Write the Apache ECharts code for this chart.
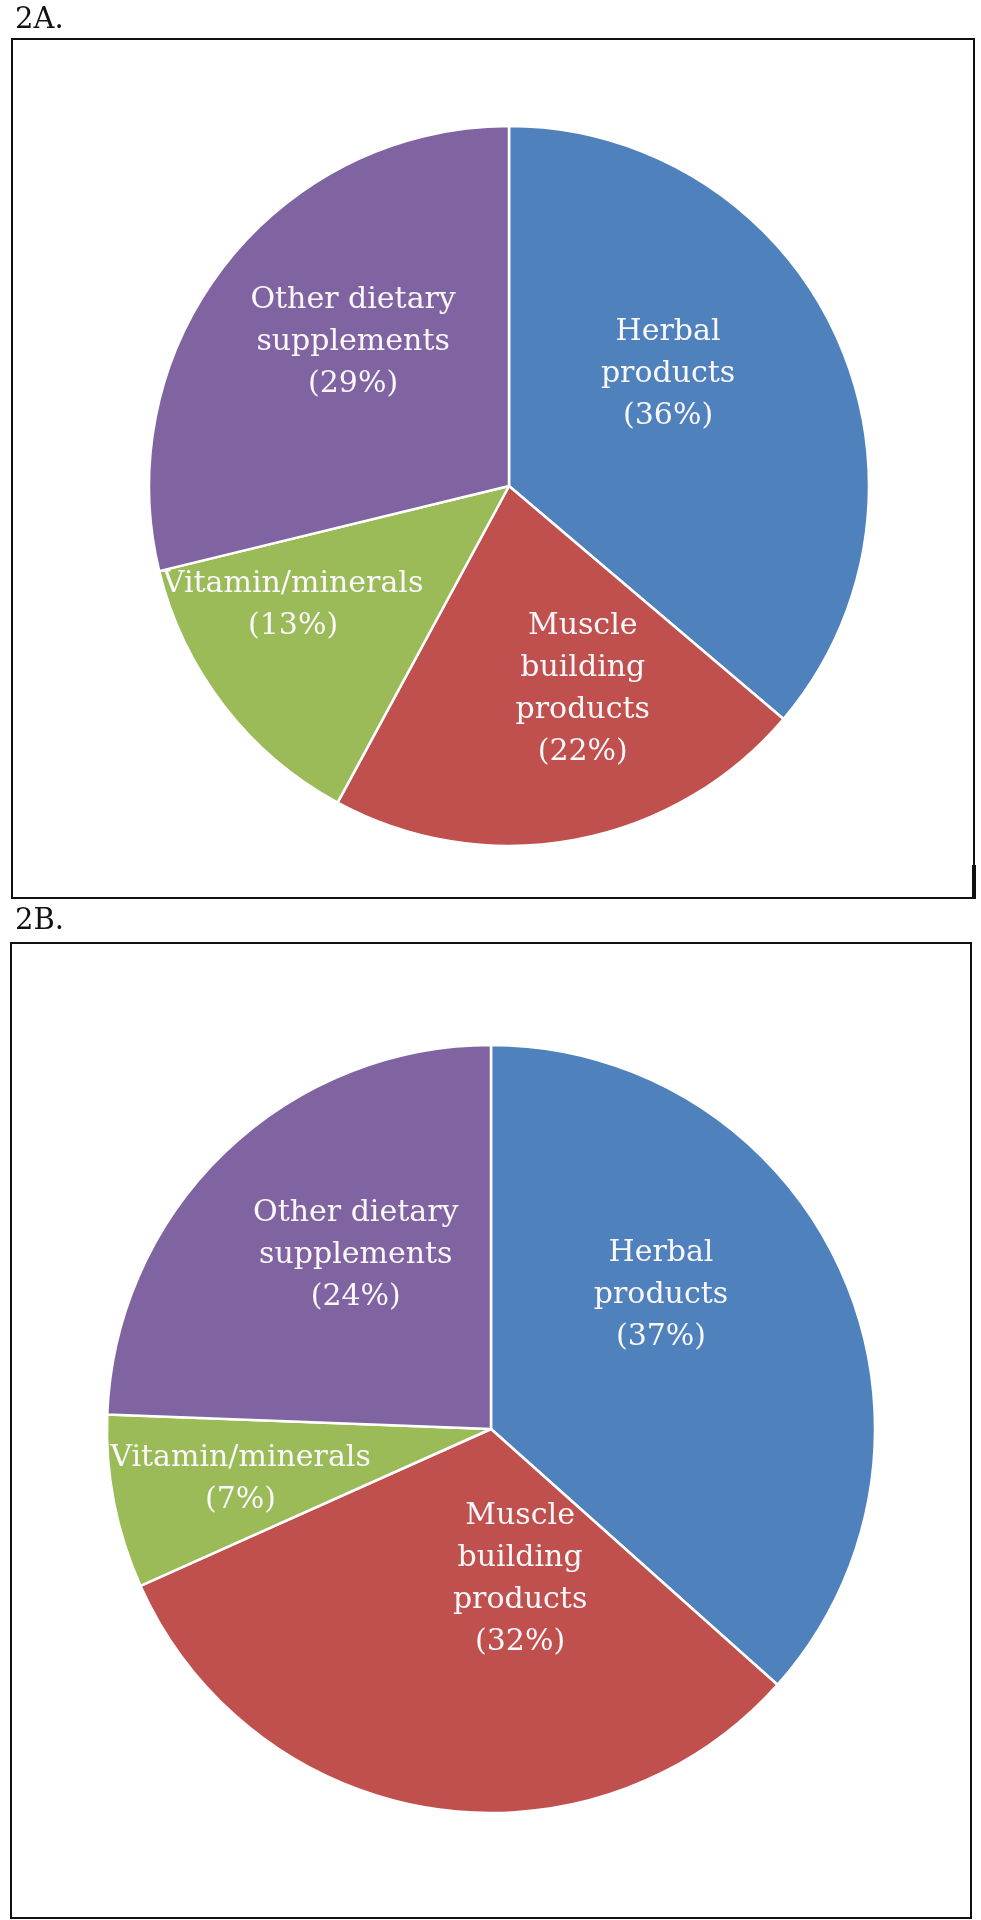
<!DOCTYPE html>
<html>
<head>
<meta charset="utf-8">
<script src="https://cdn.jsdelivr.net/npm/echarts@6/dist/echarts.min.js"></script>
<style>
  html, body { margin: 0; padding: 0; background: #fff; }
  #chart { width: 981px; height: 1920px; }
</style>
</head>
<body>
<div id="chart"></div>
<script>
// ---- data ----
const panelTitles = ['2A.', '2B.'];
const categories = ['Herbal products', 'Muscle building products', 'Vitamin/minerals', 'Other dietary supplements'];
const labelLines = ['Herbal\nproducts', 'Muscle\nbuilding\nproducts', 'Vitamin/minerals', 'Other dietary\nsupplements'];
const valuesA = [36.2, 21.7, 13.3, 28.8];
const valuesB = [36.6, 31.7, 7.3, 24.4];
const colors = ['#4F81BD', '#C0504D', '#9BBB59', '#8064A2'];

// label nudges (style only), per panel per slice
const labelShiftA = [[-7, -35], [40, 23], [-71, 7], [-12, -31]];
const labelShiftB = [[-8, -54], [59, -42], [-59, 13], [0, -33]];
const labelShifts = [labelShiftA, labelShiftB];

const chart = echarts.init(document.getElementById('chart'), null, { renderer: 'canvas' });

function makeData(vals) {
  return categories.map((c, i) => ({ name: c, value: vals[i], itemStyle: { color: colors[i] } }));
}

const labelStyle = {
  show: true,
  position: 'inside',
  color: '#fbf8fb',
  fontFamily: 'DejaVu Serif',
  fontSize: 30,
  lineHeight: 42,
  align: 'center',
  formatter: function (p) {
    return labelLines[p.dataIndex] + '\n(' + Math.round(p.value) + '%)';
  }
};

const option = {
  backgroundColor: '#ffffff',
  animation: false,
  title: [
    { text: panelTitles[0], left: 10, top: 1, textStyle: { fontFamily: 'DejaVu Serif', fontWeight: 'normal', fontSize: 29, color: '#111' } },
    { text: panelTitles[1], left: 10, top: 902, textStyle: { fontFamily: 'DejaVu Serif', fontWeight: 'normal', fontSize: 29, color: '#111' } }
  ],
  graphic: [
    { type: 'rect', shape: { x: 12, y: 39, width: 962, height: 859 }, style: { fill: 'none', stroke: '#111', lineWidth: 2 }, silent: true },
    { type: 'rect', shape: { x: 972, y: 865, width: 4, height: 34 }, style: { fill: '#111' }, silent: true },
    { type: 'rect', shape: { x: 11, y: 943, width: 960, height: 975 }, style: { fill: 'none', stroke: '#111', lineWidth: 2 }, silent: true }
  ],
  series: [
    {
      type: 'pie',
      center: [509, 486],
      radius: [0, 360],
      startAngle: 90,
      clockwise: true,
      avoidLabelOverlap: false,
      itemStyle: { borderColor: '#ffffff', borderWidth: 2.5 },
      label: labelStyle,
      labelLine: { show: false },
      emphasis: { disabled: true },
      labelLayout: function (p) { const s = labelShifts[0][p.dataIndex]; return { dx: s[0], dy: s[1] }; },
      data: makeData(valuesA)
    },
    {
      type: 'pie',
      center: [491, 1429],
      radius: [0, 384],
      startAngle: 90,
      clockwise: true,
      avoidLabelOverlap: false,
      itemStyle: { borderColor: '#ffffff', borderWidth: 2.5 },
      label: labelStyle,
      labelLine: { show: false },
      emphasis: { disabled: true },
      labelLayout: function (p) { const s = labelShifts[1][p.dataIndex]; return { dx: s[0], dy: s[1] }; },
      data: makeData(valuesB)
    }
  ]
};
chart.setOption(option);
</script>
</body>
</html>
